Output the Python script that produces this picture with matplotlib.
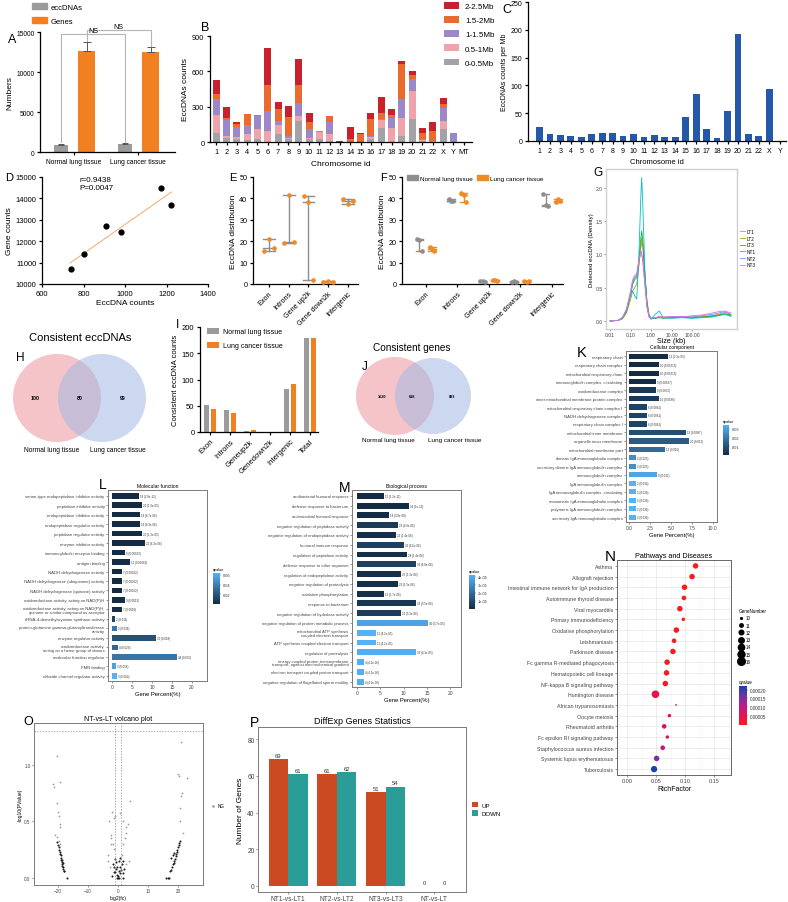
import numpy as np
import matplotlib
matplotlib.use("Agg")
import matplotlib.pyplot as plt
from matplotlib.patches import Circle, Patch
from matplotlib.lines import Line2D
from matplotlib.colors import LinearSegmentedColormap, Normalize
from matplotlib.cm import ScalarMappable

plt.rcParams['font.family'] = ['Liberation Sans', 'DejaVu Sans']

# ---------------- data ----------------
# A
A_groups = ['Normal lung tissue', 'Lung cancer tissue']
A_ecc = [900, 1000]
A_ecc_err = [150, 130]
A_genes = [12600, 12500]
A_genes_err = [1100, 600]

# B  stacked eccDNA counts per chromosome, by size bin
B_chroms = [str(i) for i in range(1, 23)] + ['X', 'Y', 'MT']
B_0_05 = [74, 37, 28, 17, 28, 0, 65, 23, 178, 28, 28, 8, 0, 0, 3, 28, 122, 0, 51, 198, 8, 5, 108, 0, 0]
B_05_1 = [152, 14, 14, 48, 80, 93, 76, 8, 43, 9, 57, 57, 0, 0, 0, 14, 65, 122, 156, 235, 9, 3, 70, 3, 0]
B_1_15 = [142, 136, 85, 76, 113, 170, 37, 20, 107, 71, 6, 105, 0, 0, 0, 9, 5, 79, 161, 99, 11, 3, 113, 70, 0]
B_15_2 = [37, 20, 23, 94, 8, 218, 105, 164, 153, 62, 0, 51, 0, 28, 62, 141, 57, 25, 292, 34, 51, 82, 29, 0, 0]
B_2_25 = [121, 93, 23, 5, 0, 320, 59, 91, 221, 79, 3, 0, 8, 97, 14, 51, 136, 51, 28, 37, 43, 80, 51, 3, 0]

# C
C_chroms = [str(i) for i in range(1, 23)] + ['X', 'Y']
C_per_mb = [25, 12, 11, 8.4, 6.6, 12, 14.4, 14.4, 9.6, 12, 6.6, 11.4, 6.6, 6.6,
            42.6, 84, 21, 6, 54, 193, 12.6, 9.6, 94, 0]

# D
D_ecc = [739, 800, 907, 981, 1173, 1221]
D_gene = [10700, 11420, 12690, 12450, 14500, 13700]

# E, F
EF_cats = ['Exon', 'Introns', 'Gene up2k', 'Gene down2k', 'Intergenic']
E_vals = [[15.2, 21.0, 17.0], [19.0, 41.5, 19.7], [41.0, 38.3, 2.0], [1.1, 1.2, 1.1], [39.8, 37.5, 38.8]]
F_norm = [[21.1, 20.6, 15.6], [39.5, 39.0, 38.8], [1.5, 1.2, 1.0], [1.0, 1.2, 0.8], [42.0, 37.0, 36.5]]
F_canc = [[17.5, 16.5, 15.5], [42.5, 41.8, 38.2], [1.8, 2.0, 1.5], [1.4, 1.0, 1.2], [38.2, 39.5, 39.0]]

# G  density curves
G_size = [0.01, 0.025, 0.04, 0.063, 0.1, 0.126, 0.158, 0.2, 0.25, 0.32, 0.35, 0.4, 0.5, 0.63,
          0.79, 1.0, 1.6, 2.5, 4.0, 10, 32, 100, 316, 1000, 2000, 4000, 8000]
G_LT1 = [0.0, 0.01, 0.04, 0.15, 0.4, 0.58, 0.66, 0.7, 0.82, 1.1, 1.18, 1.1, 0.7, 0.3, 0.1, 0.04, 0.04, 0.06, 0.05, 0.06, 0.05, 0.06, 0.07, 0.08, 0.1, 0.13, 0.1]
G_LT2 = [0.0, 0.01, 0.03, 0.12, 0.32, 0.45, 0.5, 0.55, 0.8, 1.15, 1.25, 1.15, 0.72, 0.3, 0.1, 0.04, 0.05, 0.05, 0.06, 0.05, 0.06, 0.05, 0.06, 0.08, 0.09, 0.1, 0.08]
G_LT3 = [0.0, 0.01, 0.04, 0.14, 0.38, 0.55, 0.62, 0.65, 0.9, 1.25, 1.35, 1.2, 0.68, 0.28, 0.08, 0.03, 0.04, 0.05, 0.04, 0.05, 0.06, 0.05, 0.06, 0.07, 0.09, 0.11, 0.09]
G_NT1 = [0.0, 0.01, 0.05, 0.18, 0.4, 0.45, 0.38, 0.33, 0.9, 1.9, 2.15, 1.7, 0.75, 0.22, 0.06, 0.03, 0.1, 0.15, 0.05, 0.04, 0.05, 0.04, 0.05, 0.06, 0.08, 0.1, 0.07]
G_NT2 = [0.0, 0.01, 0.05, 0.16, 0.42, 0.58, 0.64, 0.68, 0.88, 1.05, 1.02, 0.9, 0.55, 0.22, 0.08, 0.04, 0.05, 0.06, 0.05, 0.06, 0.07, 0.06, 0.08, 0.1, 0.12, 0.14, 0.1]
G_NT3 = [0.0, 0.01, 0.05, 0.17, 0.45, 0.62, 0.68, 0.7, 0.9, 1.05, 1.0, 0.88, 0.55, 0.22, 0.08, 0.04, 0.05, 0.07, 0.06, 0.07, 0.06, 0.08, 0.09, 0.12, 0.14, 0.15, 0.12]
G_names = ['LT1', 'LT2', 'LT3', 'NT1', 'NT2', 'NT3']

# H, J venn counts
H_counts = [100, 80, 99]
J_counts = [1620, 618, 893]

# I
I_cats = ['Exon', 'Introns', 'Geneup2k', 'Genedown2k', 'Intergenic', 'Total']
I_norm = [52, 42, 1, 0, 82, 180]
I_canc = [44, 36, 4.5, 0, 91.5, 178.5]

# K cellular component
K_terms = ['respiratory chain', 'respiratory chain complex', 'mitochondrial respiratory chain',
           'immunoglobulin complex, circulating', 'oxidoreductase complex',
           'inner mitochondrial membrane protein complex', 'mitochondrial respiratory chain complex I',
           'NADH dehydrogenase complex', 'respiratory chain complex I', 'mitochondrial inner membrane',
           'organelle inner membrane', 'mitochondrial membrane part', 'dimeric IgA immunoglobulin complex',
           'secretory dimeric IgA immunoglobulin complex', 'immunoglobulin complex',
           'IgA immunoglobulin complex', 'IgA immunoglobulin complex, circulating',
           'monomeric IgA immunoglobulin complex', 'polymeric IgA immunoglobulin complex',
           'secretory IgA immunoglobulin complex']
K_pct = [4.64, 3.57, 3.57, 3.25, 3.25, 3.57, 2.18, 2.18, 2.18, 6.8, 7.14, 4.3, 0.8, 0.8, 3.3, 0.8, 0.8, 0.8, 0.8, 0.8]
K_cnt = [13, 10, 10, 9, 9, 10, 6, 6, 6, 19, 20, 12, 2, 2, 9, 2, 2, 2, 2, 2]
K_q = [2.3e-05, 0.00013, 0.00013, 0.00027, 0.0035, 0.0038, 0.0061, 0.0061, 0.0061, 0.0087, 0.012, 0.016,
       0.025, 0.025, 0.031, 0.034, 0.034, 0.034, 0.034, 0.034]

# L molecular function
L_terms = ['serine-type endopeptidase inhibitor activity', 'peptidase inhibitor activity',
           'endopeptidase inhibitor activity', 'endopeptidase regulator activity',
           'peptidase regulator activity', 'enzyme inhibitor activity', 'immunoglobulin receptor binding',
           'antigen binding', 'NADH dehydrogenase activity', 'NADH dehydrogenase (ubiquinone) activity',
           'NADH dehydrogenase (quinone) activity', 'oxidoreductase activity, acting on NAD(P)H',
           'oxidoreductase activity, acting on NAD(P)H,\nquinone or similar compound as acceptor',
           'tRNA-4-demethylwyosine synthase activity',
           'protein-glutamine gamma-glutamyltransferase\nactivity', 'enzyme regulator activity',
           'oxidoreductase activity,\nacting on a heme group of donors', 'molecular function regulator',
           'FMN binding', 'chloride channel regulator activity']
L_pct = [6.7, 7.4, 7.0, 7.0, 7.4, 8.2, 3.3, 4.4, 2.6, 2.6, 2.6, 3.3, 2.6, 0.75, 1.15, 11.1, 1.5, 16.2, 1.1, 1.15]
L_cnt = [18, 20, 19, 19, 20, 22, 9, 12, 7, 7, 7, 9, 7, 2, 3, 30, 4, 44, 3, 3]
L_q = [2.8e-12, 1.3e-05, 4.7e-06, 8.3e-06, 1.3e-05, 6.3e-06, 0.00023, 0.00063, 0.00022, 0.00022, 0.00022,
       0.0013, 0.0018, 0.011, 0.036, 0.018, 0.029, 0.035, 0.056, 0.064]

# M biological process
M_terms = ['antibacterial humoral response', 'defense response to bacterium', 'antimicrobial humoral response',
           'negative regulation of peptidase activity', 'negative regulation of endopeptidase activity',
           'humoral immune response', 'regulation of peptidase activity', 'defense response to other organism',
           'regulation of endopeptidase activity', 'negative regulation of proteolysis',
           'oxidative phosphorylation', 'response to bacterium', 'negative regulation of hydrolase activity',
           'negative regulation of protein metabolic process',
           'mitochondrial ATP synthesis\ncoupled electron transport', 'ATP synthesis coupled electron transport',
           'regulation of proteolysis',
           'energy coupled proton transmembrane\ntransport, against electrochemical gradient',
           'electron transport coupled proton transport', 'negative regulation of flagellated sperm motility']
M_pct = [5.7, 11.1, 6.9, 8.8, 8.4, 10.0, 10.7, 12.6, 9.5, 8.8, 5.7, 12.6, 9.5, 15.3, 4.1, 4.1, 12.6, 1.4, 1.4, 1.4]
M_cnt = [15, 29, 18, 23, 22, 26, 28, 33, 25, 23, 15, 33, 25, 40, 11, 11, 33, 4, 4, 4]
M_q = [1.2e-11, 1e-10, 3.8e-08, 4.9e-06, 1.4e-06, 6.6e-06, 1.4e-06, 6.8e-06, 1.3e-06, 1.5e-06, 1.7e-06,
       3.5e-06, 5.3e-06, 3.7e-05, 4.2e-05, 4.2e-05, 4.1e-05, 4.1e-05, 4.1e-05, 4.1e-05]

# N pathways
N_terms = ['Asthma', 'Allograft rejection', 'Intestinal immune network for IgA production',
           'Autoimmune thyroid disease', 'Viral myocarditis', 'Primary immunodeficiency',
           'Oxidative phosphorylation', 'Leishmaniasis', 'Parkinson disease',
           'Fc gamma R-mediated phagocytosis', 'Hematopoietic cell lineage', 'NF-kappa B signaling pathway',
           'Huntington disease', 'African trypanosomiasis', 'Oocyte meiosis', 'Rheumatoid arthritis',
           'Fc epsilon RI signaling pathway', 'Staphylococcus aureus infection',
           'Systemic lupus erythematosus', 'Tuberculosis']
N_rich = [0.118, 0.112, 0.099, 0.098, 0.091, 0.097, 0.085, 0.081, 0.079, 0.069, 0.068, 0.066,
          0.049, 0.0845, 0.073, 0.064, 0.0695, 0.0615, 0.051, 0.0466]
N_genes = [13, 13, 13, 12, 13, 11, 13, 12, 13, 13, 13, 13, 16, 10, 11, 12, 11, 12, 13, 14]
N_q = [1e-06, 2e-06, 3e-06, 4e-06, 5e-06, 6e-06, 8e-06, 9e-06, 1e-05, 1.1e-05, 1.2e-05, 1.4e-05,
       5e-05, 5.5e-05, 6e-05, 7e-05, 7e-05, 9e-05, 0.00015, 0.00022]

# O volcano (NG genes)
O_fc_light = [-20.5, -21.8, -21.5, -19.5, -20.5, -20, -19.8, -19.3, -19.5, -21, -20.5, -19.8, -19.5,
              21, 20, 20.2, 23, 21.3, 21, 20.8, 21.5, 20.5,
              -3, -2, -1.5, -1, 0.5, 1.5, 4, 2.8, 3.2, -2.3, -2.5, -2.4, -1.8, -1.2, 1.8, 2.3, 2.6,
              1.3, -3.5, -3.2, 3.5, -2.8, 2.6]
O_p_light = [1.08, 0.83, 0.8, 0.85, 0.66, 0.58, 0.55, 0.48, 0.45, 0.38, 0.36, 0.33, 0.3,
             1.2, 0.92, 0.9, 0.88, 0.75, 0.72, 0.62, 0.4, 0.5,
             0.5, 0.58, 0.53, 0.55, 0.57, 0.5, 0.68, 0.45, 0.48, 0.38, 0.35, 0.3, 0.3, 0.26, 0.3, 0.35, 0.4,
             0.2, 0.2, 0.15, 0.15, 0.1, 0.12]
O_fc_dark = [-20.3, -20, -19.8, -19.6, -19.4, -19.2, -19.0, -19.1, -18.9, -18.8, -18.7, -18.6, -18.5,
             -18.3, -18, -17.9, -17, -18.5, -18.6,
             16, 16.5, 17, 17.3, 17.5, 18, 18.2, 18.5, 18.8, 19, 19.2, 19.4, 19.6, 19.8, 20, 20.2, 20.4,
             20.6, 18.3, 17.8, 18.6,
             -1, -0.8, -0.5, -0.3, 0, 0.2, 0.5, 0.8, 1, 1.2, -1.2, -0.6, 0.4, -1.5, 1.5, 0, -0.2, 0.3,
             0.7, -0.9, 1.6, -1.8, 2, -2, 1.8]
O_p_dark = [0.32, 0.29, 0.27, 0.25, 0.23, 0.21, 0.2, 0.18, 0.16, 0.14, 0.12, 0.11, 0.1,
            0.08, 0.06, 0.065, 0.0, 0.13, 0.16,
            0, 0, 0, 0.06, 0.07, 0.1, 0.12, 0.13, 0.15, 0.17, 0.19, 0.21, 0.23, 0.25, 0.27, 0.29, 0.31,
            0.33, 0.2, 0.18, 0.22,
            0.05, 0.08, 0.03, 0.1, 0.02, 0.06, 0.04, 0.1, 0.07, 0.12, 0.1, 0.14, 0.15, 0.05, 0.04, 0.0,
            0.0, 0.0, 0.18, 0.17, 0.15, 0.12, 0.08, 0.02, 0.0]

# P
P_groups = ['NT1-vs-LT1', 'NT2-vs-LT2', 'NT3-vs-LT3', 'NT-vs-LT']
P_up = [69, 61, 51, 0]
P_down = [61, 62, 54, 0]

# ---------------- style ----------------
GRAY = '#9B9B9B'
ORANGE = '#F28020'
B_cols = ['#A3A3A7', '#EFA3AA', '#9C88C9', '#EB6A2E', '#C8202C']
G_cols = ['#F8766D', '#B79F00', '#00BA38', '#00BFC4', '#619CFF', '#F564E3']
GG_CMAP = LinearSegmentedColormap.from_list('gg', ['#132B43', '#56B1F7'])
N_CMAP = LinearSegmentedColormap.from_list('rb', ['#FF1A1A', '#E3124F', '#B81E8A', '#6A35A8', '#1E40A8'])

W, H = 788, 903
fig = plt.figure(figsize=(W / 100, H / 100), dpi=100)


def box(x0, y0, x1, y1):
    return [x0 / W, 1 - y1 / H, (x1 - x0) / W, (y1 - y0) / H]


def prism(ax, fs=5):
    ax.spines[['top', 'right']].set_visible(False)
    for s in ('left', 'bottom'):
        ax.spines[s].set_linewidth(0.9)
    ax.tick_params(direction='out', length=2.5, width=0.9, labelsize=fs, pad=1.5)


def gg(ax, fs=3.2):
    for s in ax.spines.values():
        s.set_edgecolor('#7a7a7a')
        s.set_linewidth(0.7)
    ax.tick_params(length=1.5, width=0.4, colors='#444444', labelsize=fs, pad=1)


def fig_anchor(x, y):
    return (x / W, 1 - y / H)


# ---------------- A ----------------
axA = fig.add_axes(box(40, 33, 175, 153))
xa = np.arange(len(A_groups))
zeros = np.zeros(len(A_groups))
axA.bar(xa - 0.2, A_ecc, 0.22, color=GRAY, yerr=[zeros, A_ecc_err], capsize=2.5,
        error_kw=dict(elinewidth=0.7, capthick=0.7, ecolor='#555555'))
axA.bar(xa + 0.2, A_genes, 0.26, color=ORANGE, yerr=[zeros, A_genes_err], capsize=3,
        error_kw=dict(elinewidth=0.7, capthick=0.7, ecolor='#555555'))
axA.plot([-0.2, -0.2, 0.8, 0.8], [1300, 14800, 14800, 1300], color='#B5B5B5', lw=0.8, clip_on=False)
axA.plot([0.2, 0.2, 1.2, 1.2], [13900, 15300, 15300, 13300], color='#B5B5B5', lw=0.8, clip_on=False)
axA.text(0.3, 14800, 'NS', ha='center', va='bottom', fontsize=5)
axA.text(0.7, 15300, 'NS', ha='center', va='bottom', fontsize=5)
axA.set_xlim(-0.53, 1.58)
axA.set_ylim(0, 15000)
axA.set_yticks([0, 5000, 10000, 15000])
axA.set_xticks(xa)
axA.set_xticklabels(A_groups)
axA.set_ylabel('Numbers', fontsize=6, labelpad=2)
prism(axA, 4.8)
fig.legend(handles=[Patch(color=GRAY, label='eccDNAs'), Patch(color=ORANGE, label='Genes')],
           loc='upper left', bbox_to_anchor=fig_anchor(32, 4), frameon=False, fontsize=5.5,
           handlelength=1.9, handleheight=0.9, labelspacing=0.8, handletextpad=0.6,
           borderpad=0, borderaxespad=0)

# ---------------- B ----------------
axB = fig.add_axes(box(210, 37, 472, 143))
xb = np.arange(len(B_chroms))
bottom = np.zeros(len(B_chroms))
B_layers = [B_0_05, B_05_1, B_1_15, B_15_2, B_2_25]
B_labels = ['0-0.5Mb', '0.5-1Mb', '1-1.5Mb', '1.5-2Mb', '2-2.5Mb']
for vals, col, lab in zip(B_layers, B_cols, B_labels):
    axB.bar(xb, vals, 0.68, bottom=bottom, color=col, label=lab)
    bottom = bottom + np.array(vals)
axB.set_xlim(-0.6, 24.8)
axB.set_ylim(0, 900)
axB.set_yticks([0, 300, 600, 900])
axB.set_xticks(xb)
axB.set_xticklabels(B_chroms)
axB.set_xlabel('Chromosome id', fontsize=6, labelpad=4)
axB.set_ylabel('EccDNAs counts', fontsize=6, labelpad=2)
prism(axB, 5.3)
hB, lB = axB.get_legend_handles_labels()
fig.legend(hB[::-1], lB[::-1], loc='upper left', bbox_to_anchor=fig_anchor(444, 3), frameon=False,
           fontsize=5.8, handlelength=1.9, handleheight=0.9, labelspacing=0.75, handletextpad=0.7,
           borderpad=0, borderaxespad=0)

# ---------------- C ----------------
axC = fig.add_axes(box(528, 3, 786, 142))
xc = np.arange(len(C_chroms))
axC.bar(xc, C_per_mb, 0.65, color='#2458A8')
axC.set_xlim(-1.1, 23.6)
axC.set_ylim(0, 250)
axC.set_yticks([0, 50, 100, 150, 200, 250])
axC.set_xticks(xc)
axC.set_xticklabels(C_chroms)
axC.set_xlabel('Chromosome id', fontsize=5.5, labelpad=3)
axC.set_ylabel('EccDNAs counts per Mb', fontsize=5, labelpad=2)
prism(axC, 5)

# ---------------- D ----------------
axD = fig.add_axes(box(42, 178, 208, 285))
axD.scatter(D_ecc, D_gene, s=12, color='black', zorder=3)
k, b = np.polyfit(D_ecc, D_gene, 1)
xd = np.array([min(D_ecc) - 3, max(D_ecc) + 3])
axD.plot(xd, k * xd + b, color='#F5A96A', lw=0.7)
axD.text(780, 14700, 'r=0.9438\nP=0.0047', fontsize=5.8, va='center', linespacing=1.1)
axD.set_xlim(600, 1400)
axD.set_ylim(10000, 15000)
axD.set_xticks([600, 800, 1000, 1200, 1400])
axD.set_yticks([10000, 11000, 12000, 13000, 14000, 15000])
axD.set_xlabel('EccDNA counts', fontsize=6, labelpad=2)
axD.set_ylabel('Gene counts', fontsize=6, labelpad=2)
prism(axD, 5.5)


def med_range(ax, x, vals, color, cap, medw):
    lo, md, hi = min(vals), float(np.median(vals)), max(vals)
    ax.plot([x, x], [lo, hi], color=color, lw=1.0, zorder=2)
    ax.plot([x - cap, x + cap], [lo, lo], color=color, lw=1.0, zorder=2)
    ax.plot([x - cap, x + cap], [hi, hi], color=color, lw=1.0, zorder=2)
    ax.plot([x - medw, x + medw], [md, md], color=color, lw=1.0, zorder=2)


# ---------------- E ----------------
axE = fig.add_axes(box(253, 178, 358, 285))
jit = [-0.25, 0.0, 0.25]
for i, vals in enumerate(E_vals):
    med_range(axE, i, vals, '#8E8E8E', 0.3, 0.3)
    axE.scatter([i + j for j in jit], vals, s=11, color='#F08A24', zorder=3, linewidths=0)
axE.set_xlim(-0.8, 4.5)
axE.set_ylim(0, 50)
axE.set_yticks([0, 10, 20, 30, 40, 50])
axE.set_xticks(range(len(EF_cats)))
axE.set_xticklabels(EF_cats, rotation=45, ha='right', rotation_mode='anchor')
axE.set_ylabel('EccDNA distribution', fontsize=6, labelpad=2)
prism(axE, 5.2)

# ---------------- F ----------------
axF = fig.add_axes(box(402, 178, 563, 285))
jf = [-0.07, 0.0, 0.07]
for i in range(len(EF_cats)):
    med_range(axF, i - 0.2, F_norm[i], '#8E8E8E', 0.12, 0.12)
    axF.scatter([i - 0.2 + j for j in jf], F_norm[i], s=11, color='#8E8E8E', zorder=3, linewidths=0)
    med_range(axF, i + 0.2, F_canc[i], '#F08A24', 0.12, 0.12)
    axF.scatter([i + 0.2 + j for j in jf], F_canc[i], s=11, color='#F08A24', zorder=3, linewidths=0)
axF.set_xlim(-0.75, 4.35)
axF.set_ylim(0, 50)
axF.set_yticks([0, 10, 20, 30, 40, 50])
axF.set_xticks(range(len(EF_cats)))
axF.set_xticklabels(EF_cats, rotation=45, ha='right', rotation_mode='anchor')
axF.set_ylabel('EccDNA distribution', fontsize=6, labelpad=2)
prism(axF, 5.2)
axF.legend(handles=[Patch(color='#8E8E8E', label='Normal lung tissue'),
                    Patch(color='#F08A24', label='Lung cancer tissue')],
           loc='upper left', bbox_to_anchor=fig_anchor(407, 176), bbox_transform=fig.transFigure,
           ncol=2, frameon=False, fontsize=4.6, handlelength=1.7, handleheight=0.9,
           handletextpad=0.4, columnspacing=0.6, borderpad=0, borderaxespad=0)

# ---------------- G ----------------
axG = fig.add_axes(box(606, 170, 737, 330))
for vals, col, name in zip([G_LT1, G_LT2, G_LT3, G_NT1, G_NT2, G_NT3], G_cols, G_names):
    axG.plot(G_size, vals, color=col, lw=0.6, label=name)
axG.set_xscale('log')
axG.set_xlim(10 ** -2.2, 10 ** 4.2)
axG.set_ylim(-0.12, 2.28)
axG.set_xticks([0.01, 0.1, 1, 10, 100])
axG.set_xticklabels(['0.01', '0.10', '1.00', '10.00', '100.00'])
axG.minorticks_off()
axG.set_yticks([0, 0.5, 1.0, 1.5, 2.0])
axG.set_yticklabels(['0.0', '0.5', '1.0', '1.5', '2.0'])
axG.set_xlabel('Size (kb)', fontsize=5.2, labelpad=0)
axG.set_ylabel('Detected eccDNA (Density)', fontsize=4.3, labelpad=1)
gg(axG, 3.6)
for s in axG.spines.values():
    s.set_edgecolor('#CFCFCF')
    s.set_linewidth(1.0)
axG.legend(loc='upper left', bbox_to_anchor=fig_anchor(740, 230), bbox_transform=fig.transFigure,
           frameon=False, fontsize=3.4, handlelength=1.0, labelspacing=0.35, handletextpad=0.3,
           borderpad=0, borderaxespad=0)

# ---------------- I ----------------
axI = fig.add_axes(box(200, 328, 318, 433))
xi = np.arange(len(I_cats))
axI.bar(xi - 0.17, I_norm, 0.28, color=GRAY, label='Normal lung tissue')
axI.bar(xi + 0.17, I_canc, 0.28, color=ORANGE, label='Lung cancer tissue')
axI.set_xlim(-0.5, 5.4)
axI.set_ylim(0, 200)
axI.set_yticks([0, 50, 100, 150, 200])
axI.set_xticks(xi)
axI.set_xticklabels(I_cats, rotation=45, ha='right', rotation_mode='anchor')
axI.set_ylabel('Consistent eccDNA counts', fontsize=5.5, labelpad=2)
prism(axI, 5.5)
axI.legend(loc='upper left', bbox_to_anchor=fig_anchor(207, 329), bbox_transform=fig.transFigure,
           frameon=False, fontsize=5, handlelength=1.7, handleheight=0.9, labelspacing=1.0,
           handletextpad=0.6, borderpad=0, borderaxespad=0)


# ---------------- K / L / M ----------------
def go_panel(ax, cax, terms, pct, cnt, q, xlim, xticks, xticklabels, title, fs):
    norm = Normalize(min(q), max(q))
    y = np.arange(len(terms))
    ax.barh(y, pct, 0.6, color=GG_CMAP(norm(np.array(q))))
    for yy, p, c, qq in zip(y, pct, cnt, q):
        ax.text(p + 0.25 * (xlim[1] - xlim[0]) / 24, yy, f'{c} ({qq:.2g})', fontsize=2.1,
                va='center', color='#333333')
    ax.set_yticks(y)
    ax.set_yticklabels(terms, linespacing=0.95)
    ax.set_ylim(len(terms) - 0.45, -0.6)
    ax.set_xlim(*xlim)
    ax.set_xticks(xticks)
    ax.set_xticklabels(xticklabels)
    ax.set_title(title, fontsize=3.6, pad=2)
    ax.set_xlabel('Gene Percent(%)', fontsize=4.2, labelpad=1)
    gg(ax, fs)
    ax.tick_params(axis='x', labelsize=3.5)
    cb = fig.colorbar(ScalarMappable(norm=norm, cmap=GG_CMAP), cax=cax)
    cb.outline.set_visible(False)
    cb.ax.tick_params(labelsize=2.8, length=1, width=0.3, pad=1, colors='#333333')
    cax.set_title('qvalue', fontsize=2.8, loc='left', pad=2)
    return cb


axK = fig.add_axes(box(626, 352, 717, 523))
caxK = fig.add_axes(box(723, 426, 729, 456))
cbK = go_panel(axK, caxK, K_terms, K_pct, K_cnt, K_q, (-0.36, 10.5), [0, 2.5, 5, 7.5, 10],
               ['0.0', '2.5', '5.0', '7.5', '10.0'], 'Cellular component', 3.1)
cbK.set_ticks([0.01, 0.02, 0.03])

axL = fig.add_axes(box(108, 491, 207, 682))
caxL = fig.add_axes(box(213, 574, 220, 605))
cbL = go_panel(axL, caxL, L_terms, L_pct, L_cnt, L_q, (-1.0, 23.75), [0, 5, 10, 15, 20],
               ['0', '5', '10', '15', '20'], 'Molecular function', 3.1)
cbL.set_ticks([0.02, 0.04, 0.06])

axM = fig.add_axes(box(352, 491, 461, 688))
caxM = fig.add_axes(box(469, 576, 475, 610))
cbM = go_panel(axM, caxM, M_terms, M_pct, M_cnt, M_q, (-1.07, 22.3), [0, 5, 10, 15, 20],
               ['0', '5', '10', '15', '20'], 'Biological process', 3.0)
cbM.set_ticks([1e-05, 2e-05, 3e-05, 4e-05])
cbM.set_ticklabels(['1e-05', '2e-05', '3e-05', '4e-05'])

# ---------------- N ----------------
axN = fig.add_axes(box(617, 561, 731, 776))
yn = np.arange(len(N_terms))


def dot_area(n):
    d = np.sqrt(3 + (np.asarray(n, dtype=float) - 10) / 6 * 55)
    return (d * 0.72) ** 2


normN = Normalize(0, 0.00022)
axN.scatter(N_rich, yn, s=dot_area(N_genes), c=N_q, cmap=N_CMAP, norm=normN, linewidths=0, zorder=3)
axN.set_yticks(yn)
axN.set_yticklabels(N_terms)
axN.set_ylim(len(N_terms) - 0.45, -0.55)
axN.set_xlim(-0.0172, 0.179)
axN.set_xticks([0, 0.05, 0.10, 0.15])
axN.set_xticklabels(['0.00', '0.05', '0.10', '0.15'])
axN.set_xticks([0.025, 0.075, 0.125, 0.175], minor=True)
axN.grid(True, which='major', color='#E6E6E6', lw=0.5)
axN.grid(True, which='minor', axis='x', color='#F3F3F3', lw=0.4)
axN.tick_params(which='minor', length=0)
axN.set_axisbelow(True)
axN.set_title('Pathways and Diseases', fontsize=5.2, pad=2)
axN.set_xlabel('RichFactor', fontsize=5, labelpad=1)
gg(axN, 3.8)
axN.tick_params(axis='x', labelsize=4)
for s in axN.spines.values():
    s.set_edgecolor('#666666')
gn_vals = [10, 11, 12, 13, 14, 15, 16]
gn_handles = [Line2D([], [], ls='', marker='o', color='black', markersize=float(np.sqrt(dot_area(v))),
                     label=str(v)) for v in gn_vals]
axN.legend(handles=gn_handles, title='GeneNumber', loc='upper left',
           bbox_to_anchor=fig_anchor(739, 609), bbox_transform=fig.transFigure, frameon=False,
           fontsize=3.3, title_fontsize=3.3, labelspacing=0.5, handletextpad=0.4, handlelength=1.0,
           borderpad=0, borderaxespad=0, alignment='left')
caxN = fig.add_axes(box(739, 687, 747, 726))
cbN = fig.colorbar(ScalarMappable(norm=normN, cmap=N_CMAP), cax=caxN)
cbN.outline.set_visible(False)
cbN.set_ticks([0.00005, 0.0001, 0.00015, 0.0002])
cbN.set_ticklabels(['0.00005', '0.00010', '0.00015', '0.00020'])
cbN.ax.tick_params(labelsize=3.3, length=1, width=0.3, pad=1, colors='#333333')
caxN.set_title('qvalue', fontsize=3.3, loc='left', pad=2)

# ---------------- O ----------------
axO = fig.add_axes(box(34, 724, 203, 886))
axO.scatter(O_fc_light, O_p_light, s=1.6, color='#9C9C9C', linewidths=0, label='NG')
axO.scatter(O_fc_dark, O_p_dark, s=2.2, color='#1E1E1E', linewidths=0)
axO.axhline(-np.log10(0.05), color='#8C8C8C', lw=0.5, ls=(0, (2, 2)))
axO.axvline(-1, color='#8C8C8C', lw=0.5, ls=(0, (2, 2)))
axO.axvline(1, color='#8C8C8C', lw=0.5, ls=(0, (2, 2)))
axO.set_xlim(-28, 28.3)
axO.set_ylim(-0.062, 1.368)
axO.set_xticks([-20, -10, 0, 10, 20])
axO.set_yticks([0, 0.5, 1.0])
axO.set_yticklabels(['0.0', '0.5', '1.0'])
axO.set_title('NT-vs-LT volcano plot', fontsize=5, pad=2)
axO.set_xlabel('log2(fc)', fontsize=3.6, labelpad=1)
axO.set_ylabel('-log10(PValue)', fontsize=3.6, labelpad=1)
gg(axO, 3.3)
axO.legend(loc='upper left', bbox_to_anchor=fig_anchor(208, 804), bbox_transform=fig.transFigure,
           frameon=False, fontsize=3.3, handletextpad=0.1, markerscale=1.5, borderpad=0, borderaxespad=0)

# ---------------- P ----------------
axP = fig.add_axes(box(258, 728, 466, 893))
xp = np.arange(len(P_groups))
bu = axP.bar(xp - 0.2, P_up, 0.4, color='#CB4A21', label='UP')
bd = axP.bar(xp + 0.2, P_down, 0.4, color='#2A9D98', label='DOWN')
axP.bar_label(bu, fontsize=4.2, padding=1, color='#333333')
axP.bar_label(bd, fontsize=4.2, padding=1, color='#333333')
axP.set_xlim(-0.62, 3.65)
axP.set_ylim(-3.3, 86.6)
axP.set_yticks([0, 20, 40, 60, 80])
axP.set_xticks(xp)
axP.set_xticklabels(P_groups)
axP.set_title('DiffExp Genes Statistics', fontsize=6.5, pad=3)
axP.set_ylabel('Number of Genes', fontsize=6, labelpad=2)
gg(axP, 4.8)
axP.legend(loc='upper left', bbox_to_anchor=fig_anchor(472, 803), bbox_transform=fig.transFigure,
           frameon=False, fontsize=4.4, handlelength=1.0, handleheight=1.0, labelspacing=0.4,
           handletextpad=0.5, borderpad=0, borderaxespad=0)

# ---------------- overlay: venns and panel letters ----------------
ov = fig.add_axes([0, 0, 1, 1])
ov.set_xlim(0, W)
ov.set_ylim(H, 0)
ov.axis('off')
ov.patch.set_alpha(0)

ov.add_patch(Circle((57, 399), 44, facecolor='#EE9DA5', alpha=0.6, lw=0))
ov.add_patch(Circle((102, 399), 44, facecolor='#A3B8E3', alpha=0.55, lw=0))
ov.text(80, 338, 'Consistent eccDNAs', fontsize=8, ha='center', va='center')
for xx, v in zip([35, 80, 123], H_counts):
    ov.text(xx, 399, str(v), fontsize=3.8, ha='center', va='center', fontweight='bold')
ov.text(52, 451, 'Normal lung tissue', fontsize=4.8, ha='center', va='center')
ov.text(118, 451, 'Lung cancer tissue', fontsize=4.8, ha='center', va='center')

ov.add_patch(Circle((395, 397), 39, facecolor='#EE9DA5', alpha=0.6, lw=0))
ov.add_patch(Circle((433, 397), 38, facecolor='#A3B8E3', alpha=0.55, lw=0))
ov.text(412, 348, 'Consistent genes', fontsize=7.2, ha='center', va='center')
for xx, v in zip([382, 412, 452], J_counts):
    ov.text(xx, 397, str(v), fontsize=2.8, ha='center', va='center', fontweight='bold')
ov.text(388, 441, 'Normal lung tissue', fontsize=4.6, ha='center', va='center')
ov.text(455, 441, 'Lung cancer tissue', fontsize=4.6, ha='center', va='center')

letters = [('A', 12, 40, 9), ('B', 205, 28, 9), ('C', 507, 10, 9), ('D', 9, 178, 8),
           ('E', 233, 178, 8), ('F', 384, 178, 8), ('G', 598, 173, 8.5), ('H', 20, 358, 8.5),
           ('I', 178, 325, 8.5), ('J', 365, 367, 8.5), ('K', 582, 353, 10.5), ('L', 103, 485, 10),
           ('M', 345, 488, 10), ('N', 610, 557, 11), ('O', 28, 722, 9), ('P', 255, 723, 10)]
for t, xx, yy, fs in letters:
    ov.text(xx, yy, t, fontsize=fs, ha='center', va='center')

fig.savefig('out.png', dpi=100)
